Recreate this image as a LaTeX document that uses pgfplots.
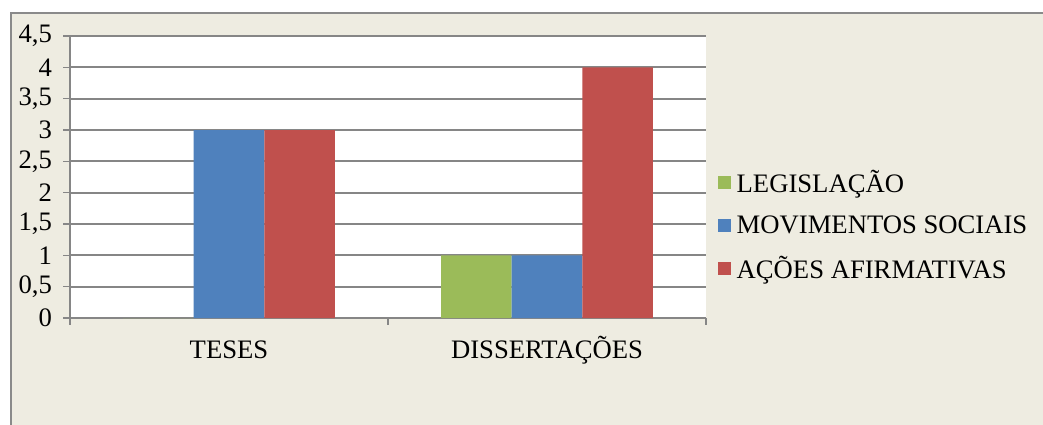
\documentclass[border=0pt]{standalone}
\usepackage{fontspec}
\setmainfont{Liberation Serif}
\usepackage{pgfplots}
\pgfplotsset{compat=1.18}
\definecolor{bg}{HTML}{EEECE1}
\definecolor{cgreen}{HTML}{9BBB59}
\definecolor{cblue}{HTML}{4F81BD}
\definecolor{cred}{HTML}{C0504D}
\definecolor{lgray}{HTML}{868686}
\definecolor{fgray}{HTML}{8A8A8A}
\newcommand{\cfont}{\fontsize{20}{23}\selectfont}
\begin{document}
\begin{tikzpicture}
\path[use as bounding box] (-52.5pt,-80.25pt) rectangle (729.75pt,238.5pt);
\fill[white] (-52.5pt,-80.25pt) rectangle (729.75pt,238.5pt);
\fill[bg] (-44.25pt,-80.25pt) rectangle (729.75pt,228.75pt);
\draw[fgray, line width=1.3pt] (-44.25pt,-80.25pt) -- (-44.25pt,228.75pt) -- (729.75pt,228.75pt);
\begin{axis}[
  at={(0pt,0pt)}, anchor=south west,
  scale only axis, width=477pt, height=211.5pt,
  xmin=-0.5, xmax=1.5, ymin=0, ymax=4.5,
  axis x line*=bottom, axis y line*=left,
  axis line style={lgray, line width=1.4pt, -},
  ytick={0,0.5,1,1.5,2,2.5,3,3.5,4,4.5},
  xtick={0,1}, xticklabels={TESES, DISSERTAÇÕES},
  minor xtick={-0.5,0.5,1.5},
  major x tick style={draw=none},
  tick align=outside, major tick length=5pt, minor tick length=5pt,
  every tick/.style={lgray, line width=1.2pt},
  minor tick style={lgray, line width=1.2pt},
  ymajorgrids, grid style={lgray, line width=1.4pt},
  axis background/.style={fill=white},
  /pgf/number format/.cd, use comma, assume math mode=true, /pgfplots/.cd,
  tick label style={font=\cfont, text=black},
  xticklabel style={text height=14pt, text depth=4pt, yshift=-8pt},
  yticklabel style={xshift=-5pt},
  ybar, bar width=0.2222,
  legend style={at={(1.019,0.328)}, anchor=west, draw=none, fill=none,
    font=\cfont, inner sep=0pt, row sep=12pt,
    /tikz/every odd column/.append style={column sep=2pt}},
  legend cell align=left,
  legend image code/.code={\fill[#1] (0pt,-4.875pt) rectangle (9.75pt,4.875pt);},
]
\addplot[fill=cgreen, draw=none, bar shift=-0.2222] coordinates {(0,0) (1,1)};
\addplot[fill=cblue, draw=none, bar shift=0] coordinates {(0,3) (1,1)};
\addplot[fill=cred, draw=none, bar shift=0.2222] coordinates {(0,3) (1,4)};
\legend{LEGISLAÇÃO, MOVIMENTOS SOCIAIS, AÇÕES AFIRMATIVAS}
\end{axis}
\end{tikzpicture}
\end{document}
